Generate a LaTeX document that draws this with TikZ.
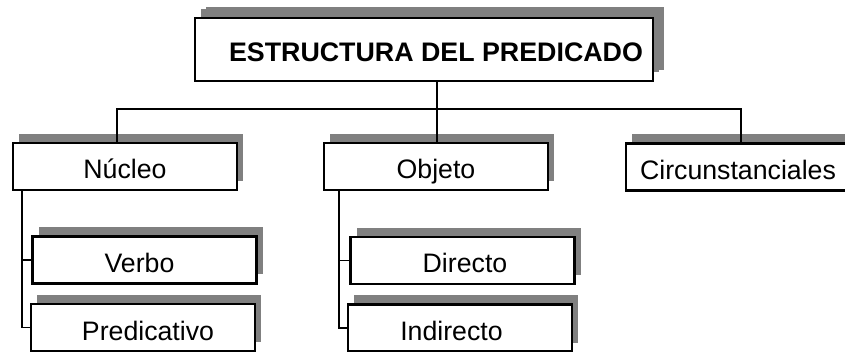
\documentclass[tikz,border=0pt]{standalone}
\usepackage{fontspec}
\setmainfont{Liberation Sans}
\usetikzlibrary{shadows}
\begin{document}
\begin{tikzpicture}[x=1pt,y=-1pt,
	caja/.style={draw,line width=2.8pt,fill=white,minimum width=224pt,minimum height=47pt,
		text height=25pt,text depth=0pt,inner sep=0pt,
		font=\fontsize{26.7}{30}\selectfont,
		drop shadow={shadow xshift=6pt,shadow yshift=9pt,opacity=1,fill=black!50}},
	linea/.style={line width=1.9pt}]
	\useasboundingbox (0,0) rectangle (845,352);

	\node[caja,minimum width=458pt,minimum height=63pt,font=\bfseries\fontsize{26.8}{30}\selectfont,
		drop shadow={shadow xshift=11pt,shadow yshift=11pt,opacity=1,fill=black!50}]
		(titulo) at (424,49.5) {\hspace*{24pt}ESTRUCTURA DEL PREDICADO};

	\node[caja] (nucleo) at (125,166.5) {Núcleo};
	\node[caja] (objeto) at (436,166.5) {Objeto};
	\node[caja] (circ) at (738,167) {Circunstanciales};

	\node[caja] (verbo) at (144.5,260) {Verbo\hspace*{10pt}};
	\node[caja] (predicativo) at (143,327.5) {\hspace*{10pt}Predicativo};
	\node[caja] (directo) at (462.5,260.5) {\hspace*{5pt}Directo};
	\node[caja] (indirecto) at (460,328) {Indirecto\hspace*{17pt}};

	\coordinate (bar) at (437,109);
	\draw[linea] (titulo.south -| bar) -- (objeto.north -| bar);
	\draw[linea] ([xshift=-8pt]nucleo.north) |- (bar) -| ([xshift=3pt]circ.north);

	\draw[linea] ([xshift=10pt]nucleo.south west) |- (predicativo.west);
	\draw[linea] (verbo.west -| predicativo.west) ++(-8pt,0) -- (verbo.west);
	\draw[linea] ([xshift=16pt]objeto.south west) |- (indirecto.west);
	\draw[linea] (directo.west -| indirecto.west) ++(-8pt,0) -- (directo.west);
\end{tikzpicture}
\end{document}
